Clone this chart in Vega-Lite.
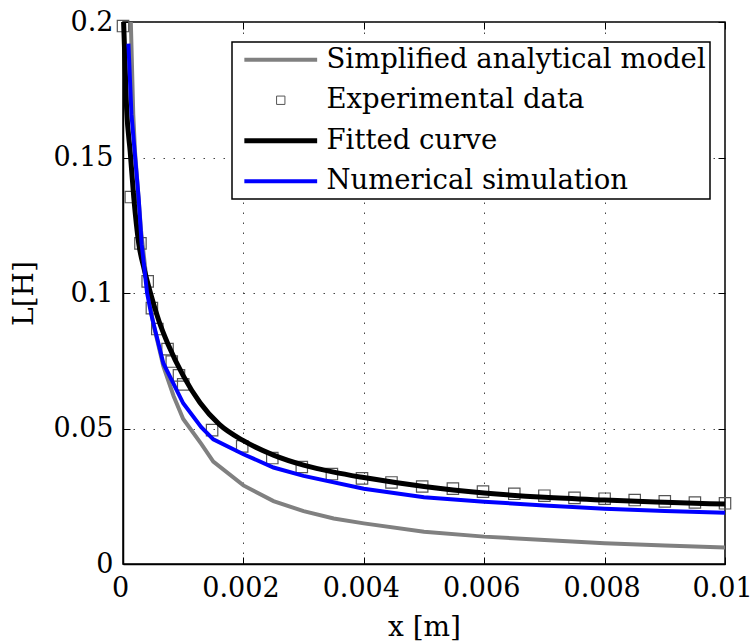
{
  "$schema": "https://vega.github.io/schema/vega-lite/v6.json",
  "autosize": "none",
  "width": 602,
  "height": 542,
  "padding": {"left": 123, "top": 22, "right": 28, "bottom": 80},
  "background": "white",
  "config": {
    "view": {"stroke": "black", "strokeWidth": 1.5},
    "font": "DejaVu Serif",
    "axis": {
      "labelFont": "DejaVu Serif", "labelFontSize": 27, "labelColor": "black",
      "titleFont": "DejaVu Serif", "titleFontSize": 28, "titleFontWeight": "normal", "titleColor": "black",
      "domainColor": "black", "domainWidth": 1.5,
      "tickColor": "black", "tickSize": -7, "tickWidth": 1,
      "gridColor": "#444", "gridDash": [1.5, 8.5], "gridWidth": 1, "gridOpacity": 1
    }
  },
  "data": {"values": [
    {"s": "Simplified analytical model", "x": 0.00013, "L": 0.2},
    {"s": "Simplified analytical model", "x": 0.00017, "L": 0.166},
    {"s": "Simplified analytical model", "x": 0.0002, "L": 0.152},
    {"s": "Simplified analytical model", "x": 0.0003, "L": 0.123},
    {"s": "Simplified analytical model", "x": 0.0004, "L": 0.103},
    {"s": "Simplified analytical model", "x": 0.0005, "L": 0.089},
    {"s": "Simplified analytical model", "x": 0.00067, "L": 0.073},
    {"s": "Simplified analytical model", "x": 0.00084, "L": 0.062},
    {"s": "Simplified analytical model", "x": 0.001, "L": 0.0535},
    {"s": "Simplified analytical model", "x": 0.0013, "L": 0.0443},
    {"s": "Simplified analytical model", "x": 0.0015, "L": 0.0378},
    {"s": "Simplified analytical model", "x": 0.002, "L": 0.029},
    {"s": "Simplified analytical model", "x": 0.0025, "L": 0.0232},
    {"s": "Simplified analytical model", "x": 0.003, "L": 0.0195},
    {"s": "Simplified analytical model", "x": 0.0035, "L": 0.0168},
    {"s": "Simplified analytical model", "x": 0.004, "L": 0.015},
    {"s": "Simplified analytical model", "x": 0.005, "L": 0.0119},
    {"s": "Simplified analytical model", "x": 0.006, "L": 0.0101},
    {"s": "Simplified analytical model", "x": 0.007, "L": 0.0089},
    {"s": "Simplified analytical model", "x": 0.008, "L": 0.0077},
    {"s": "Simplified analytical model", "x": 0.009, "L": 0.0068},
    {"s": "Simplified analytical model", "x": 0.01, "L": 0.0061},

    {"s": "Experimental data", "x": 0, "L": 0.1985},
    {"s": "Experimental data", "x": 0.00013, "L": 0.1354},
    {"s": "Experimental data", "x": 0.00029, "L": 0.1183},
    {"s": "Experimental data", "x": 0.00041, "L": 0.1043},
    {"s": "Experimental data", "x": 0.00048, "L": 0.0944},
    {"s": "Experimental data", "x": 0.00057, "L": 0.0867},
    {"s": "Experimental data", "x": 0.00074, "L": 0.0793},
    {"s": "Experimental data", "x": 0.00081, "L": 0.0747},
    {"s": "Experimental data", "x": 0.00093, "L": 0.0696},
    {"s": "Experimental data", "x": 0.001, "L": 0.0663},
    {"s": "Experimental data", "x": 0.00148, "L": 0.0494},
    {"s": "Experimental data", "x": 0.00198, "L": 0.0434},
    {"s": "Experimental data", "x": 0.00248, "L": 0.0391},
    {"s": "Experimental data", "x": 0.00297, "L": 0.0358},
    {"s": "Experimental data", "x": 0.00347, "L": 0.0332},
    {"s": "Experimental data", "x": 0.00397, "L": 0.0316},
    {"s": "Experimental data", "x": 0.00446, "L": 0.0301},
    {"s": "Experimental data", "x": 0.00497, "L": 0.0286},
    {"s": "Experimental data", "x": 0.00548, "L": 0.0278},
    {"s": "Experimental data", "x": 0.00598, "L": 0.0267},
    {"s": "Experimental data", "x": 0.0065, "L": 0.0259},
    {"s": "Experimental data", "x": 0.007, "L": 0.0252},
    {"s": "Experimental data", "x": 0.0075, "L": 0.0244},
    {"s": "Experimental data", "x": 0.008, "L": 0.0241},
    {"s": "Experimental data", "x": 0.0085, "L": 0.0236},
    {"s": "Experimental data", "x": 0.009, "L": 0.0231},
    {"s": "Experimental data", "x": 0.0095, "L": 0.0227},
    {"s": "Experimental data", "x": 0.01, "L": 0.0224},

    {"s": "Fitted curve", "x": 0.00001, "L": 0.2},
    {"s": "Fitted curve", "x": 0.00006, "L": 0.168},
    {"s": "Fitted curve", "x": 0.00012, "L": 0.152},
    {"s": "Fitted curve", "x": 0.00018, "L": 0.135},
    {"s": "Fitted curve", "x": 0.00026, "L": 0.1185},
    {"s": "Fitted curve", "x": 0.00035, "L": 0.109},
    {"s": "Fitted curve", "x": 0.00045, "L": 0.1005},
    {"s": "Fitted curve", "x": 0.0006, "L": 0.0895},
    {"s": "Fitted curve", "x": 0.00075, "L": 0.081},
    {"s": "Fitted curve", "x": 0.001, "L": 0.0695},
    {"s": "Fitted curve", "x": 0.00128, "L": 0.0595},
    {"s": "Fitted curve", "x": 0.0016, "L": 0.0515},
    {"s": "Fitted curve", "x": 0.002, "L": 0.0455},
    {"s": "Fitted curve", "x": 0.0025, "L": 0.0402},
    {"s": "Fitted curve", "x": 0.003, "L": 0.0365},
    {"s": "Fitted curve", "x": 0.0035, "L": 0.0339},
    {"s": "Fitted curve", "x": 0.004, "L": 0.0319},
    {"s": "Fitted curve", "x": 0.005, "L": 0.0286},
    {"s": "Fitted curve", "x": 0.006, "L": 0.0262},
    {"s": "Fitted curve", "x": 0.007, "L": 0.0246},
    {"s": "Fitted curve", "x": 0.008, "L": 0.0236},
    {"s": "Fitted curve", "x": 0.009, "L": 0.0228},
    {"s": "Fitted curve", "x": 0.01, "L": 0.0221},

    {"s": "Numerical simulation", "x": 0.00009, "L": 0.192},
    {"s": "Numerical simulation", "x": 0.00014, "L": 0.166},
    {"s": "Numerical simulation", "x": 0.00026, "L": 0.135},
    {"s": "Numerical simulation", "x": 0.00031, "L": 0.118},
    {"s": "Numerical simulation", "x": 0.0004, "L": 0.1},
    {"s": "Numerical simulation", "x": 0.00047, "L": 0.092},
    {"s": "Numerical simulation", "x": 0.00067, "L": 0.0741},
    {"s": "Numerical simulation", "x": 0.001, "L": 0.0593},
    {"s": "Numerical simulation", "x": 0.0013, "L": 0.0505},
    {"s": "Numerical simulation", "x": 0.0015, "L": 0.046},
    {"s": "Numerical simulation", "x": 0.002, "L": 0.0405},
    {"s": "Numerical simulation", "x": 0.0025, "L": 0.0356},
    {"s": "Numerical simulation", "x": 0.003, "L": 0.0325},
    {"s": "Numerical simulation", "x": 0.004, "L": 0.0278},
    {"s": "Numerical simulation", "x": 0.005, "L": 0.0246},
    {"s": "Numerical simulation", "x": 0.006, "L": 0.023},
    {"s": "Numerical simulation", "x": 0.007, "L": 0.0216},
    {"s": "Numerical simulation", "x": 0.008, "L": 0.0204},
    {"s": "Numerical simulation", "x": 0.009, "L": 0.0196},
    {"s": "Numerical simulation", "x": 0.01, "L": 0.0189}
  ]},
  "resolve": {"axis": {"x": "independent", "y": "independent"}},
  "layer": [
    {
      "transform": [{"filter": "datum.s === 'Simplified analytical model'"}],
      "mark": {"type": "line", "strokeWidth": 4},
      "encoding": {
        "x": {"field": "x", "type": "quantitative", "scale": {"domain": [0, 0.01], "nice": false},
              "axis": {"values": [0, 0.002, 0.004, 0.006, 0.008, 0.01], "format": "~g", "grid": true, "title": "x [m]", "labelPadding": 18, "titlePadding": 12, "labelFlush": false, "labelOffset": -3}},
        "y": {"field": "L", "type": "quantitative", "scale": {"domain": [0, 0.2], "nice": false},
              "axis": {"values": [0, 0.05, 0.1, 0.15, 0.2], "format": "~g", "grid": true, "title": "L[H]", "labelPadding": 17, "titlePadding": 14}},
        "color": {"field": "s", "type": "nominal",
          "scale": {"domain": ["Simplified analytical model", "Experimental data", "Fitted curve", "Numerical simulation"],
                    "range": ["#808080", "#555555", "#000000", "#0000ff"]},
          "legend": {
            "title": null, "orient": "none", "legendX": 109, "legendY": 20, "direction": "vertical",
            "fillColor": "white", "strokeColor": "black", "padding": 4,
            "labelFont": "DejaVu Serif", "labelFontSize": 27.5, "labelColor": "black", "labelLimit": 600, "labelOffset": 32,
            "symbolType": "stroke", "symbolSize": 5300, "symbolStrokeWidth": 4, "rowPadding": 11.5, "symbolOffset": 31,
            "encode": {
              "legend": {"update": {"strokeWidth": {"value": 1.5}}},
              "symbols": {"update": {
                "shape": {"signal": "datum.value === 'Experimental data' ? 'square' : 'stroke'"},
                "size": {"signal": "datum.value === 'Experimental data' ? 70 : 5300"},
                "strokeWidth": {"signal": "datum.value === 'Experimental data' ? 1 : (datum.value === 'Fitted curve' ? 5 : 4)"},
                "stroke": {"scale": "color", "field": "value"},
                "fill": {"value": "transparent"},
                "opacity": {"value": 1}
              }}
            }
          }
        }
      }
    },
    {
      "transform": [{"filter": "datum.s === 'Experimental data'"}],
      "mark": {"type": "point", "shape": "square", "filled": false, "size": 130, "strokeWidth": 1.2, "opacity": 1},
      "encoding": {
        "x": {"field": "x", "type": "quantitative", "axis": {"orient": "top", "values": [0, 0.002, 0.004, 0.006, 0.008, 0.01], "labels": false, "title": null, "grid": false, "domain": false}},
        "y": {"field": "L", "type": "quantitative", "axis": {"orient": "right", "values": [0, 0.05, 0.1, 0.15, 0.2], "labels": false, "title": null, "grid": false, "domain": false}},
        "color": {"field": "s", "type": "nominal"}
      }
    },
    {
      "transform": [{"filter": "datum.s === 'Fitted curve'"}],
      "mark": {"type": "line", "strokeWidth": 5, "interpolate": "monotone"},
      "encoding": {
        "x": {"field": "x", "type": "quantitative", "axis": null},
        "y": {"field": "L", "type": "quantitative", "axis": null},
        "color": {"field": "s", "type": "nominal"}
      }
    },
    {
      "transform": [{"filter": "datum.s === 'Numerical simulation'"}],
      "mark": {"type": "line", "strokeWidth": 4},
      "encoding": {
        "x": {"field": "x", "type": "quantitative", "axis": null},
        "y": {"field": "L", "type": "quantitative", "axis": null},
        "color": {"field": "s", "type": "nominal"}
      }
    }
  ]
}
